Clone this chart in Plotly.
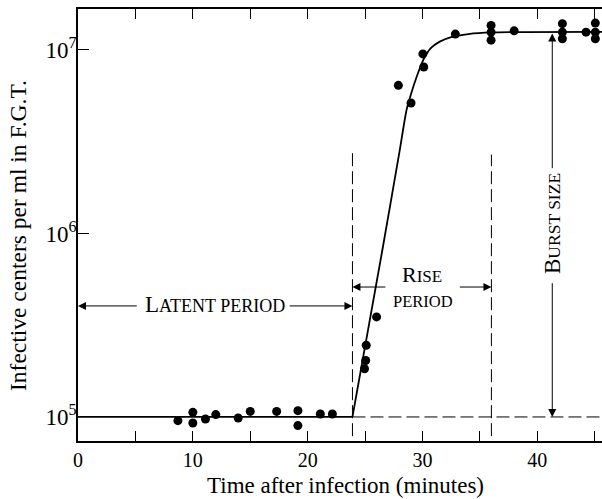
import plotly.graph_objects as go

# Plaque counts of infective centres sampled during the one-step growth experiment
obs_time = [8.7, 10.0, 10.0, 11.1, 12.0, 13.95, 15.0, 17.3, 19.15, 19.15, 21.1, 22.15,
            24.95, 25.05, 25.1, 26.0, 27.9, 29.0, 30.03, 30.11, 32.86,
            35.97, 35.97, 35.97, 37.98, 42.18, 42.18, 42.18, 44.24, 45.05, 45.05, 45.05]
obs_count = [0.955e5, 1.06e5, 0.927e5, 0.975e5, 1.03e5, 0.987e5, 1.072e5, 1.072e5, 1.082e5, 0.897e5,
             1.038e5, 1.038e5,
             1.83e5, 2.03e5, 2.46e5, 3.51e5, 6.41e6, 5.14e6, 9.51e6, 8.07e6, 1.22e7,
             1.36e7, 1.25e7, 1.13e7, 1.27e7, 1.39e7, 1.25e7, 1.15e7, 1.25e7, 1.40e7, 1.25e7, 1.15e7]

# Hand-drawn growth curve: flat latent part, then the rise into the plateau
latent_time = [0, 23.9]
latent_count = [1e5, 1e5]
rise_time = [23.9, 26.5, 28.0, 28.6, 29.0, 29.5, 30.1, 30.7, 31.5, 32.5, 34.0, 36.0, 46.0]
rise_count = [1e5, 8.1e5, 2.8e6, 4.68e6, 5.75e6, 7.16e6, 8.9e6, 1.02e7, 1.11e7, 1.175e7, 1.22e7,
              1.245e7, 1.253e7]

# Period boundaries and burst marker
latent_end = 23.9
rise_end = 36.0
burst_x = 41.3
plateau_log = 7.09

x_ticks = [0, 5, 10, 15, 20, 25, 30, 35, 40, 45]
x_tick_text = ["0", "", "10", "", "20", "", "30", "", "40", ""]
y_ticks = [1e5, 1e6, 1e7]
y_tick_text = ["10<sup>5</sup>", "10<sup>6</sup>", "10<sup>7</sup>"]

FONT = "Liberation Serif, Times New Roman, serif"
INK = "black"

fig = go.Figure()

# dashed guide lines
fig.add_trace(go.Scatter(x=[latent_end, latent_end], y=[5e4, 2.78e6], mode="lines",
                         line=dict(color=INK, width=1, dash="13px,5px"), hoverinfo="skip"))
fig.add_trace(go.Scatter(x=[rise_end, rise_end], y=[5e4, 2.69e6], mode="lines",
                         line=dict(color=INK, width=1, dash="13px,5px"), hoverinfo="skip"))
fig.add_trace(go.Scatter(x=[latent_end, 46.5], y=[1e5, 1e5], mode="lines",
                         line=dict(color=INK, width=1, dash="13px,5px"), hoverinfo="skip"))

# growth curve
fig.add_trace(go.Scatter(x=latent_time, y=latent_count, mode="lines",
                         line=dict(color=INK, width=1.8), hoverinfo="skip"))
fig.add_trace(go.Scatter(x=rise_time, y=rise_count, mode="lines",
                         line=dict(color=INK, width=1.8, shape="spline", smoothing=0.6),
                         hoverinfo="skip"))

# observations
fig.add_trace(go.Scatter(x=obs_time, y=obs_count, mode="markers",
                         marker=dict(color=INK, size=9, line=dict(width=0)), cliponaxis=True))

arrow = dict(showarrow=True, arrowhead=2, arrowsize=1.6, arrowwidth=1, arrowcolor=INK,
             axref="x", ayref="y", xref="x", yref="y", text="", standoff=0, startstandoff=0)
label = dict(xref="x", yref="y", showarrow=False, xanchor="center", yanchor="middle")

annotations = [
    # latent period
    dict(x=0, y=5.605, ax=5.25, ay=5.605, **arrow),
    dict(x=latent_end, y=5.605, ax=18.3, ay=5.605, **arrow),
    dict(x=11.95, y=5.612, **label,
         text="L<span style='font-size:18px'>ATENT PERIOD</span>",
         font=dict(family=FONT, size=23, color=INK)),
    # rise period
    dict(x=latent_end, y=5.708, ax=26.9, ay=5.708, **arrow),
    dict(x=rise_end, y=5.708, ax=33.12, ay=5.708, **arrow),
    dict(x=29.94, y=5.7755, **label,
         text="R<span style='font-size:17px'>ISE</span>",
         font=dict(family=FONT, size=22, color=INK)),
    dict(x=30.08, y=5.63, **label,
         text="PERIOD", font=dict(family=FONT, size=16.5, color=INK)),
    # burst size
    dict(x=burst_x, y=plateau_log, ax=burst_x, ay=6.3475, **arrow),
    dict(x=burst_x, y=5.0, ax=burst_x, ay=5.737, **arrow),
    dict(x=burst_x, y=6.053, **label, textangle=-90,
         text="B<span style='font-size:17.5px'>URST SIZE</span>",
         font=dict(family=FONT, size=23, color=INK)),
    # axis titles
    dict(x=0.511, y=-0.1019, xref="paper", yref="paper", showarrow=False,
         xanchor="center", yanchor="middle",
         text="Time after infection (minutes)", font=dict(family=FONT, size=23, color=INK)),
    dict(x=-0.1145, y=0.4745, xref="paper", yref="paper", showarrow=False,
         xanchor="center", yanchor="middle", textangle=-90,
         text="Infective centers per ml in F.G.T.", font=dict(family=FONT, size=23.5, color=INK)),
]

# short inward ticks on the right-hand edge
shapes = [dict(type="line", xref="paper", yref="y", x0=1 - 5 / 524, x1=1, y0=v, y1=v,
               line=dict(color=INK, width=1.2)) for v in (5, 6, 7)]

fig.update_layout(
    width=602, height=499,
    margin=dict(l=78, r=0, t=9, b=58),
    paper_bgcolor="white", plot_bgcolor="white",
    showlegend=False,
    annotations=annotations,
    shapes=shapes,
    font=dict(family=FONT, size=20, color=INK),
)

fig.update_xaxes(range=[0, 45.63], tickvals=x_ticks, ticktext=x_tick_text,
                 ticks="inside", ticklen=10, tickwidth=1.2, tickcolor=INK,
                 showline=True, linewidth=1.5, linecolor=INK, mirror="ticks",
                 showgrid=False, zeroline=False, tickfont=dict(family=FONT, size=20, color=INK))
fig.update_yaxes(type="log", range=[4.869, 7.223], tickvals=y_ticks, ticktext=y_tick_text,
                 ticks="inside", ticklen=11, tickwidth=1.2, tickcolor=INK,
                 showline=True, linewidth=1.5, linecolor=INK, mirror=False,
                 ticklabelstandoff=-5,
                 showgrid=False, zeroline=False, tickfont=dict(family=FONT, size=23, color=INK))

fig.write_html("out.html")
